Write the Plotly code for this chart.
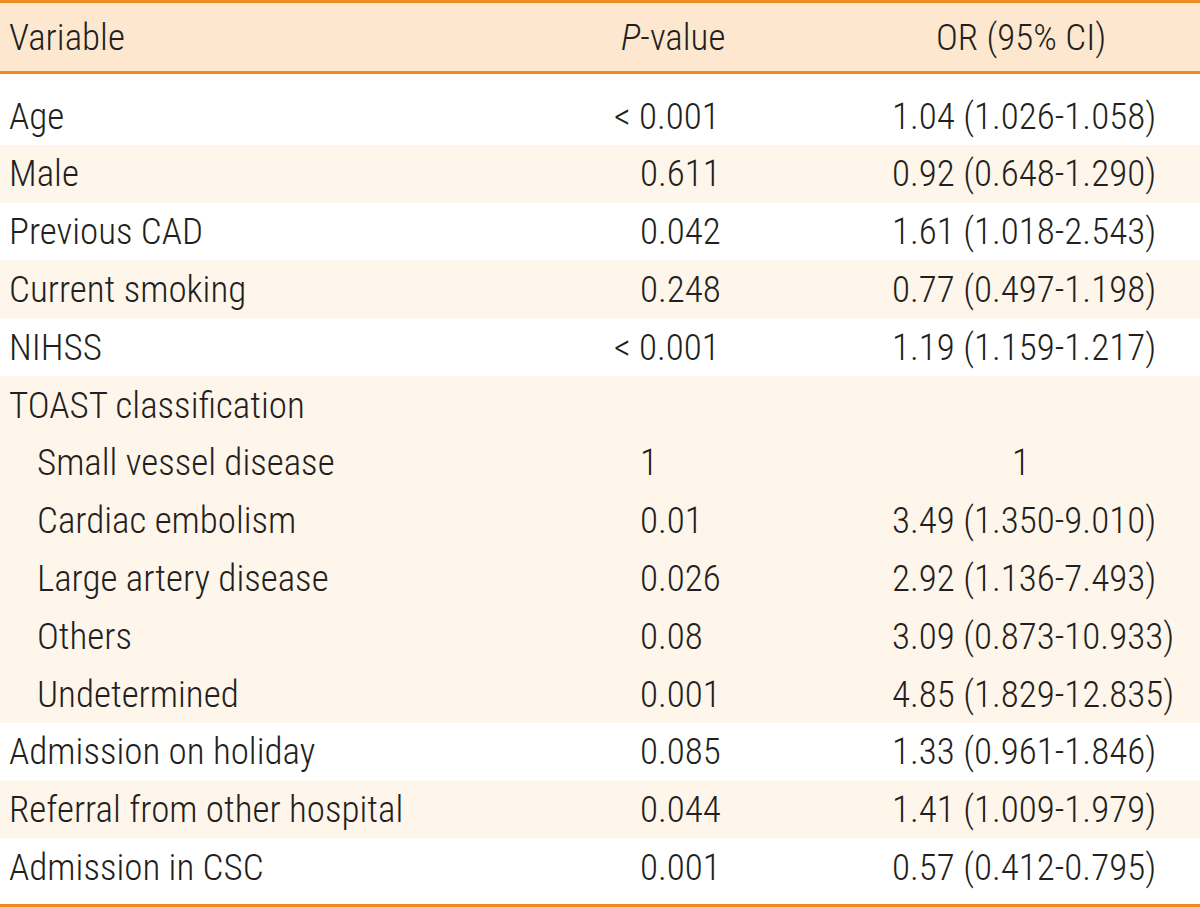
import plotly.graph_objects as go

# ---------------- data ----------------
headers = ["Variable", "<i>P</i>-value", "OR (95% CI)"]

variables = [
    "Age", "Male", "Previous CAD", "Current smoking", "NIHSS",
    "TOAST classification", "Small vessel disease", "Cardiac embolism",
    "Large artery disease", "Others", "Undetermined",
    "Admission on holiday", "Referral from other hospital", "Admission in CSC",
]
indent = [0, 0, 0, 0, 0, 0, 1, 1, 1, 1, 1, 0, 0, 0]
p_values = ["< 0.001", "0.611", "0.042", "0.248", "< 0.001", "", "1",
            "0.01", "0.026", "0.08", "0.001", "0.085", "0.044", "0.001"]
or_values = ["1.04", "0.92", "1.61", "0.77", "1.19", "", "1",
             "3.49", "2.92", "3.09", "4.85", "1.33", "1.41", "0.57"]
ci_low = ["1.026", "0.648", "1.018", "0.497", "1.159", "", "",
          "1.350", "1.136", "0.873", "1.829", "0.961", "1.009", "0.412"]
ci_high = ["1.058", "1.290", "2.543", "1.198", "1.217", "", "",
           "9.010", "7.493", "10.933", "12.835", "1.846", "1.979", "0.795"]

# ---------------- style ----------------
FONT = "Roboto Condensed, Liberation Sans, sans-serif"
SIZE = 37
WEIGHT = 300
TXT = "#231f20"
ORANGE = "#ee8a1f"
HEAD_BG = "#fde8cf"
STRIPE = "#fef5eb"

X_VAR, X_SUB = 9, 37
X_P_LEFT, X_P_RIGHT, X_P_MID = 640, 720, 673
X_OR_LEFT, X_OR_MID = 892, 1021

HEADER_ROW = -1.35
Y_TOP_LINE, Y_HEAD_TOP, Y_HEAD_LINE = -1.981, -1.955, -0.752
Y_BOTTOM_LINE = 13.66

n = len(variables)

# group rows (sub-rows share their parent's group) for striping
groups, g = [], -1
for ind in indent:
    if ind == 0:
        g += 1
    groups.append(g)

fig = go.Figure()
fig.add_trace(go.Scatter(x=[0, 1200], y=[0, n - 1], mode="markers",
                         marker=dict(opacity=0), hoverinfo="skip", showlegend=False))

shapes = []
shapes.append(dict(type="rect", xref="x", yref="y", x0=0, x1=1200,
                   y0=Y_HEAD_TOP, y1=Y_HEAD_LINE, fillcolor=HEAD_BG, line_width=0, layer="below"))
for i in range(n):
    if groups[i] % 2 == 1:
        shapes.append(dict(type="rect", xref="x", yref="y", x0=0, x1=1200,
                           y0=i - 0.5, y1=i + 0.5, fillcolor=STRIPE, line_width=0, layer="below"))
for yv in (Y_TOP_LINE, Y_HEAD_LINE, Y_BOTTOM_LINE):
    shapes.append(dict(type="line", xref="x", yref="y", x0=0, x1=1200, y0=yv, y1=yv,
                       line=dict(color=ORANGE, width=3)))

ann = []
def add_text(x, y, text, anchor):
    ann.append(dict(x=x, y=y, xref="x", yref="y", text=text, showarrow=False,
                    xanchor=anchor, yanchor="middle", borderpad=0, borderwidth=0,
                    font=dict(family=FONT, size=SIZE, color=TXT, weight=WEIGHT)))

add_text(X_VAR, HEADER_ROW, headers[0], "left")
add_text(X_P_MID, HEADER_ROW, headers[1], "center")
add_text(X_OR_MID, HEADER_ROW, headers[2], "center")

for i in range(n):
    add_text(X_SUB if indent[i] else X_VAR, i, variables[i], "left")
    p = p_values[i]
    if p:
        if p.startswith("<"):
            add_text(X_P_RIGHT, i, p, "right")
        elif len(p) == 1:
            add_text(X_P_LEFT + 9, i, p, "center")
        else:
            add_text(X_P_LEFT, i, p, "left")
    o = or_values[i]
    if o:
        if ci_low[i]:
            add_text(X_OR_LEFT, i, f"{o} ({ci_low[i]}-{ci_high[i]})", "left")
        else:
            add_text(X_OR_MID, i, o, "center")

fig.update_layout(
    width=1200, height=907,
    margin=dict(l=0, r=0, t=0, b=0),
    paper_bgcolor="white", plot_bgcolor="white",
    xaxis=dict(range=[0, 1200], visible=False, fixedrange=True),
    yaxis=dict(range=[13.685, -2.007], visible=False, fixedrange=True),
    shapes=shapes, annotations=ann, showlegend=False,
)

fig.write_html("out.html", config={"displayModeBar": False},
               post_script="document.body.style.margin='0';")
